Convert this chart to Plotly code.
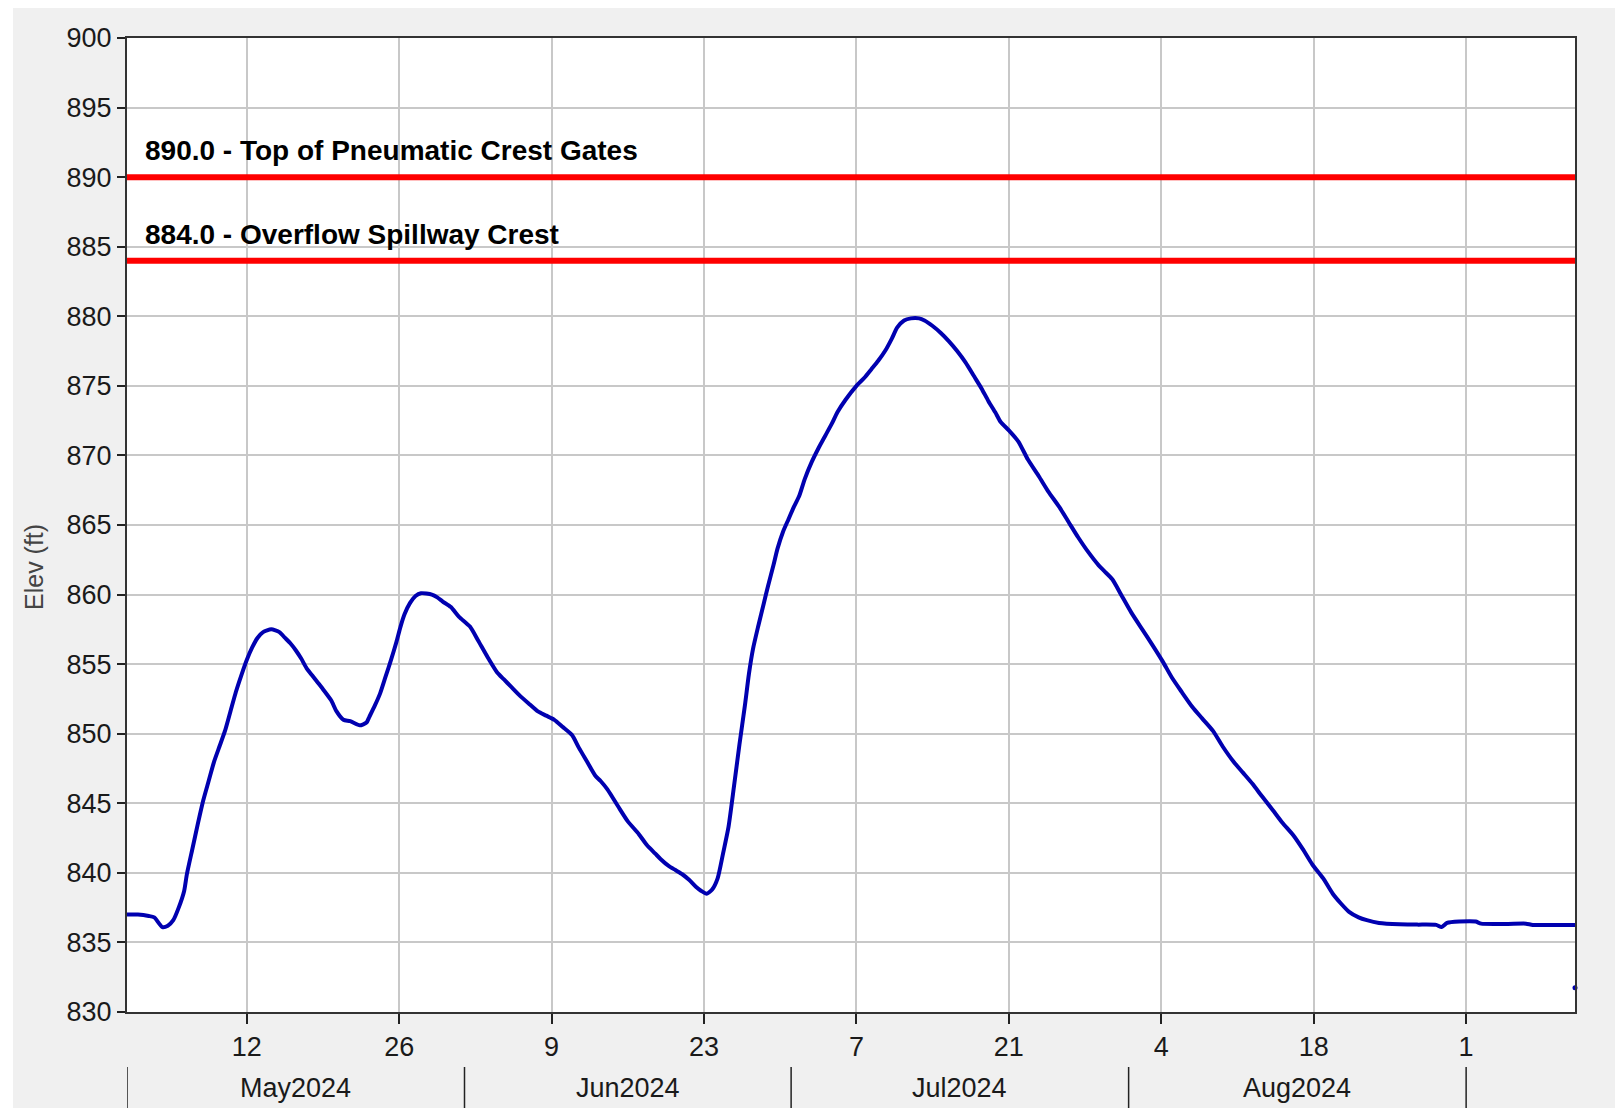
import plotly.graph_objects as go

# ---------------- data ----------------
dates = [
    "2024-05-01 00:00", "2024-05-02 00:00", "2024-05-03 00:00", "2024-05-03 12:00", "2024-05-04 06:00",
    "2024-05-04 18:00", "2024-05-05 06:00", "2024-05-05 18:00", "2024-05-06 06:00", "2024-05-06 12:00",
    "2024-05-07 00:00", "2024-05-07 12:00", "2024-05-08 00:00", "2024-05-08 12:00", "2024-05-09 00:00",
    "2024-05-09 12:00", "2024-05-10 00:00", "2024-05-10 12:00", "2024-05-11 00:00", "2024-05-11 12:00",
    "2024-05-12 00:00", "2024-05-12 12:00", "2024-05-13 00:00", "2024-05-13 12:00", "2024-05-14 06:00",
    "2024-05-15 00:00", "2024-05-15 12:00", "2024-05-16 00:00", "2024-05-16 12:00", "2024-05-17 00:00",
    "2024-05-17 12:00", "2024-05-18 00:00", "2024-05-18 12:00", "2024-05-19 00:00", "2024-05-19 18:00",
    "2024-05-20 06:00", "2024-05-20 21:00", "2024-05-21 12:00", "2024-05-22 09:00", "2024-05-23 00:00",
    "2024-05-23 06:00", "2024-05-23 18:00", "2024-05-24 06:00", "2024-05-24 18:00", "2024-05-25 06:00",
    "2024-05-25 18:00", "2024-05-26 03:00", "2024-05-26 12:00", "2024-05-27 00:00", "2024-05-27 12:00",
    "2024-05-28 00:00", "2024-05-29 00:00", "2024-05-29 12:00", "2024-05-30 00:00", "2024-05-30 18:00",
    "2024-05-31 12:00", "2024-06-01 12:00", "2024-06-02 06:00", "2024-06-03 03:00", "2024-06-04 00:00",
    "2024-06-04 15:00", "2024-06-05 06:00", "2024-06-06 03:00", "2024-06-07 00:00", "2024-06-07 18:00",
    "2024-06-08 12:00", "2024-06-09 06:00", "2024-06-10 00:00", "2024-06-10 21:00", "2024-06-11 12:00",
    "2024-06-12 06:00", "2024-06-13 00:00", "2024-06-13 12:00", "2024-06-14 03:00", "2024-06-15 06:00",
    "2024-06-16 00:00", "2024-06-17 00:00", "2024-06-17 18:00", "2024-06-18 12:00", "2024-06-19 00:00",
    "2024-06-19 18:00", "2024-06-20 09:00", "2024-06-21 00:00", "2024-06-21 15:00", "2024-06-22 06:00",
    "2024-06-22 18:00", "2024-06-23 06:00", "2024-06-23 18:00", "2024-06-24 06:00", "2024-06-24 18:00",
    "2024-06-25 06:00", "2024-06-25 18:00", "2024-06-26 06:00", "2024-06-26 18:00", "2024-06-27 03:00",
    "2024-06-27 12:00", "2024-06-28 00:00", "2024-06-28 12:00", "2024-06-28 21:00", "2024-06-29 09:00",
    "2024-06-29 18:00", "2024-06-30 06:00", "2024-06-30 18:00", "2024-07-01 06:00", "2024-07-01 18:00",
    "2024-07-02 06:00", "2024-07-02 21:00", "2024-07-03 12:00", "2024-07-04 03:00", "2024-07-04 18:00",
    "2024-07-05 06:00", "2024-07-06 00:00", "2024-07-07 00:00", "2024-07-07 18:00", "2024-07-08 09:00",
    "2024-07-09 00:00", "2024-07-09 15:00", "2024-07-10 06:00", "2024-07-10 18:00", "2024-07-11 09:00",
    "2024-07-12 00:00", "2024-07-12 18:00", "2024-07-13 06:00", "2024-07-14 00:00", "2024-07-14 18:00",
    "2024-07-15 12:00", "2024-07-16 06:00", "2024-07-17 00:00", "2024-07-17 21:00", "2024-07-18 12:00",
    "2024-07-19 03:00", "2024-07-19 18:00", "2024-07-20 06:00", "2024-07-21 00:00", "2024-07-21 21:00",
    "2024-07-22 18:00", "2024-07-23 18:00", "2024-07-24 15:00", "2024-07-25 15:00", "2024-07-26 12:00",
    "2024-07-27 09:00", "2024-07-28 06:00", "2024-07-29 06:00", "2024-07-29 18:00", "2024-07-30 12:00",
    "2024-07-31 09:00", "2024-08-01 06:00", "2024-08-02 06:00", "2024-08-03 06:00", "2024-08-04 03:00",
    "2024-08-05 00:00", "2024-08-05 21:00", "2024-08-06 21:00", "2024-08-07 18:00", "2024-08-08 18:00",
    "2024-08-09 15:00", "2024-08-10 15:00", "2024-08-11 12:00", "2024-08-12 09:00", "2024-08-13 06:00",
    "2024-08-14 06:00", "2024-08-15 03:00", "2024-08-16 03:00", "2024-08-17 00:00", "2024-08-17 21:00",
    "2024-08-18 21:00", "2024-08-19 18:00", "2024-08-20 12:00", "2024-08-21 06:00", "2024-08-22 03:00",
    "2024-08-22 21:00", "2024-08-24 00:00", "2024-08-25 21:00", "2024-08-27 12:00", "2024-08-29 06:00",
    "2024-08-29 18:00", "2024-08-30 06:00", "2024-08-31 09:00", "2024-09-01 21:00", "2024-09-02 09:00",
    "2024-09-04 18:00", "2024-09-06 12:00", "2024-09-07 03:00", "2024-09-11 00:00",
]
elevation_ft = [
    837.0, 837.0, 836.9, 836.8, 836.1,
    836.2, 836.6, 837.5, 838.7, 839.9,
    841.7, 843.5, 845.2, 846.6, 848.0,
    849.1, 850.2, 851.6, 853.0, 854.2,
    855.3, 856.2, 856.9, 857.3, 857.5,
    857.3, 856.9, 856.5, 856.0, 855.4,
    854.7, 854.2, 853.7, 853.2, 852.4,
    851.6, 851.0, 850.9, 850.6, 850.8,
    851.2, 852.0, 852.9, 854.1, 855.3,
    856.6, 857.7, 858.6, 859.4, 859.9,
    860.1, 860.0, 859.8, 859.5, 859.1,
    858.4, 857.7, 856.7, 855.5, 854.4,
    853.9, 853.4, 852.7, 852.1, 851.6,
    851.3, 851.0, 850.5, 849.9, 849.0,
    848.0, 847.0, 846.6, 846.0, 844.6,
    843.7, 842.8, 842.0, 841.4, 841.0,
    840.5, 840.2, 839.9, 839.5, 839.0,
    838.7, 838.5, 838.8, 839.6, 841.4,
    843.3, 846.2, 849.2, 852.0, 854.3,
    856.1, 857.8, 859.4, 860.6, 862.1,
    863.3, 864.5, 865.4, 866.3, 867.1,
    868.3, 869.5, 870.5, 871.4, 872.3,
    873.1, 874.0, 875.0, 875.6, 876.2,
    876.8, 877.5, 878.4, 879.2, 879.7,
    879.85, 879.85, 879.7, 879.3, 878.8,
    878.2, 877.5, 876.7, 875.6, 874.8,
    873.9, 873.1, 872.4, 871.8, 871.0,
    869.7, 868.5, 867.4, 866.3, 865.2,
    864.1, 863.1, 862.1, 861.7, 861.1,
    859.9, 858.7, 857.5, 856.3, 855.2,
    854.0, 853.0, 851.9, 851.1, 850.2,
    849.1, 848.0, 847.2, 846.4, 845.5,
    844.5, 843.6, 842.7, 841.7, 840.6,
    839.6, 838.5, 837.8, 837.2, 836.8,
    836.6, 836.4, 836.3, 836.28, 836.26,
    836.1, 836.4, 836.5, 836.5, 836.35,
    836.33, 836.35, 836.26, 836.26,
]
stray_dates = ["2024-09-11 00:00"]
stray_values = [831.75]

ref_levels = [890.0, 884.0]
ref_labels = ["890.0 - Top of Pneumatic Crest Gates", "884.0 - Overflow Spillway Crest"]

x_range = ["2024-05-01", "2024-09-11"]
tick_dates = ["2024-05-12", "2024-05-26", "2024-06-09", "2024-06-23", "2024-07-07",
              "2024-07-21", "2024-08-04", "2024-08-18", "2024-09-01"]
tick_labels = ["12", "26", "9", "23", "7", "21", "4", "18", "1"]
month_bounds = ["2024-05-01", "2024-06-01", "2024-07-01", "2024-08-01", "2024-09-01"]
month_centers = ["2024-05-16 12:00", "2024-06-16", "2024-07-16 12:00", "2024-08-16 12:00"]
month_labels = ["May2024", "Jun2024", "Jul2024", "Aug2024"]

# ---------------- figure ----------------
# page body has an 8px margin, so the figure sits at (8, 8) in the window
W, H = 1615, 1100
ML, MR, MT, MB = 119, 48, 30, 96
PW, PH = W - ML - MR, H - MT - MB
FONT = "Liberation Sans, Arial, sans-serif"


def py(screen_y):
    """paper y for a screen pixel row"""
    return (MT + PH - (screen_y - 8)) / PH


fig = go.Figure()
fig.add_trace(go.Scatter(x=dates, y=elevation_ft, mode="lines",
                         line=dict(color="#0000b0", width=4, shape="spline", smoothing=0.6),
                         showlegend=False))
fig.add_trace(go.Scatter(x=stray_dates, y=stray_values, mode="markers",
                         marker=dict(color="#0000b0", size=5), showlegend=False, cliponaxis=False))

shapes = []
annotations = []
for lvl, lab in zip(ref_levels, ref_labels):
    shapes.append(dict(type="line", xref="paper", yref="y", x0=0, x1=1, y0=lvl, y1=lvl,
                       line=dict(color="#ff0000", width=6), layer="above"))
    annotations.append(dict(xref="paper", yref="y", x=16 / PW, y=lvl, text=lab, showarrow=False,
                            xanchor="left", yanchor="bottom", yshift=9,
                            font=dict(family=FONT, size=28, color="#000000", weight="bold")))

# month separators and labels
for b in month_bounds:
    shapes.append(dict(type="line", xref="x", yref="paper", x0=b, x1=b,
                       y0=py(1067), y1=py(1108),
                       line=dict(color="#222222", width=1.5)))
for c, lab in zip(month_centers, month_labels):
    annotations.append(dict(xref="x", yref="paper", x=c, y=py(1088), text=lab,
                            showarrow=False, xanchor="center", yanchor="middle",
                            font=dict(family=FONT, size=27, color="#1a1a1a")))

# y-axis title
annotations.append(dict(xref="paper", yref="paper", x=-(ML - 26) / PW, y=py(567),
                        text="Elev (ft)", textangle=-90, showarrow=False,
                        xanchor="center", yanchor="middle",
                        font=dict(family=FONT, size=25, color="#444444")))

# white strip at left edge of canvas (total 13px with page margin)
shapes.append(dict(type="rect", xref="paper", yref="paper", x0=-ML / PW - 0.001, x1=-(ML - 5) / PW,
                   y0=-MB / PH - 0.01, y1=1 + MT / PH + 0.01, fillcolor="#ffffff",
                   line=dict(width=0), layer="below"))

fig.update_layout(
    width=W, height=H,
    margin=dict(l=ML, r=MR, t=MT, b=MB, autoexpand=False),
    paper_bgcolor="#f0f0f0", plot_bgcolor="#ffffff",
    font=dict(family=FONT, size=27, color="#1a1a1a"),
    shapes=shapes, annotations=annotations, showlegend=False,
    xaxis=dict(type="date", range=x_range, tickmode="array", tickvals=tick_dates, ticktext=tick_labels,
               showgrid=True, gridcolor="#c8c8c8", gridwidth=1.5,
               showline=True, linecolor="#333333", linewidth=2, mirror=True,
               ticks="outside", ticklen=10, tickwidth=1.5, tickcolor="#222222",
               tickfont=dict(family=FONT, size=27, color="#1a1a1a"),
               zeroline=False, fixedrange=True),
    yaxis=dict(range=[830, 900], tickmode="linear", tick0=830, dtick=5,
               showgrid=True, gridcolor="#c8c8c8", gridwidth=1.5,
               showline=True, linecolor="#333333", linewidth=2, mirror=True,
               ticks="outside", ticklen=8, tickwidth=1.5, tickcolor="#222222",
               tickfont=dict(family=FONT, size=27, color="#1a1a1a"),
               zeroline=False, fixedrange=True),
)

fig.write_html("out.html")
